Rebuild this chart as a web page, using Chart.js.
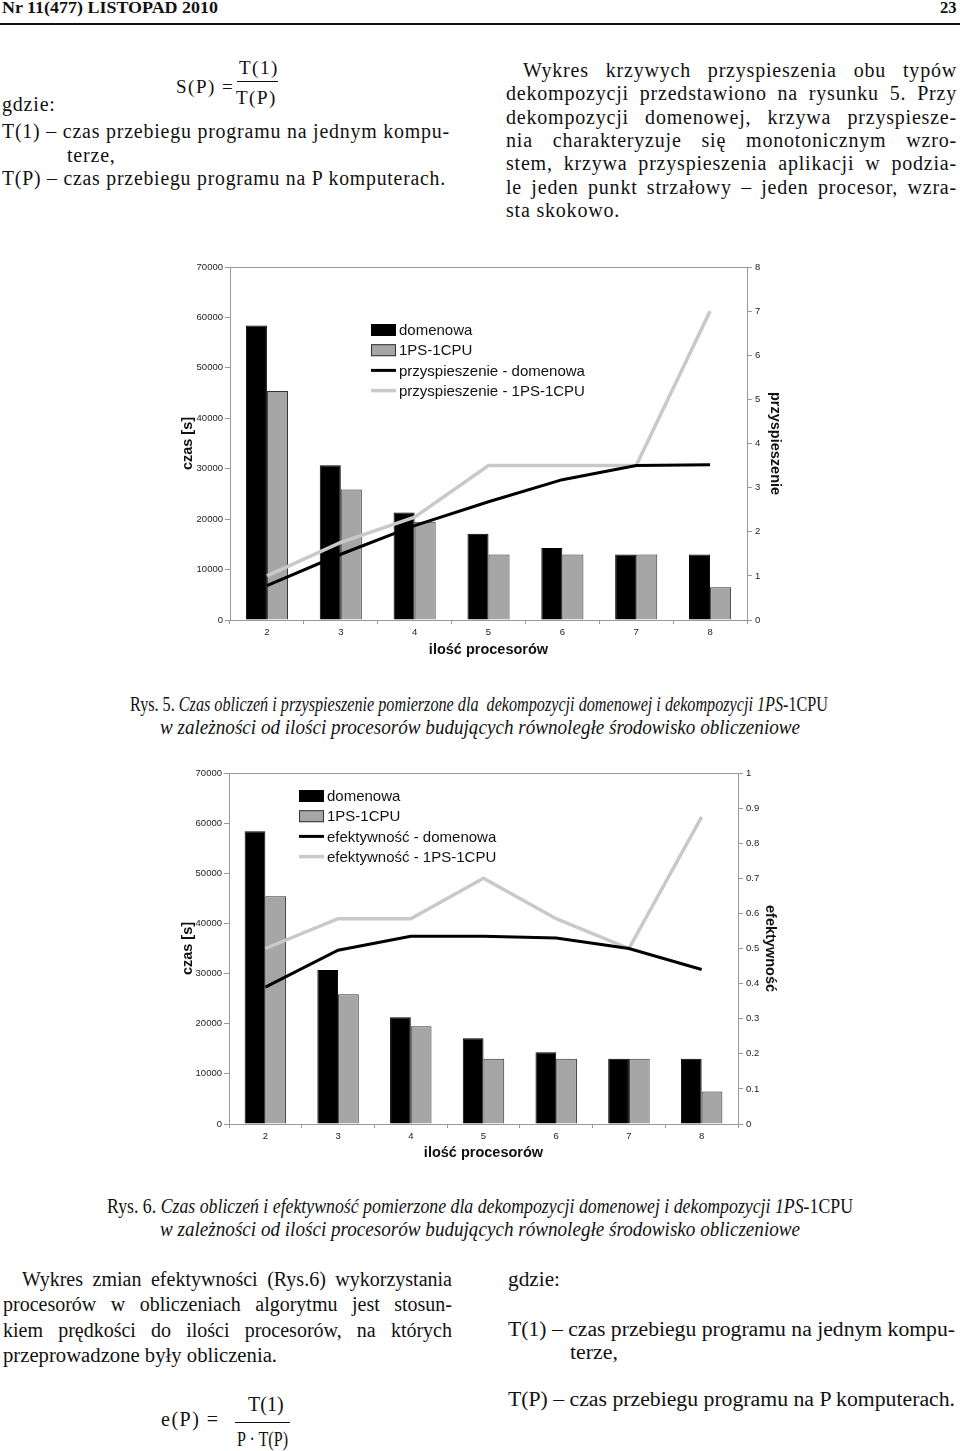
<!DOCTYPE html>
<html lang="pl">

<head>
    <meta charset="UTF-8" />
    <script src="https://cdn.jsdelivr.net/npm/chart.js@4.4.0/dist/chart.umd.min.js"></script>
    <style>
        body { margin: 0; background: #fff; }
        #strona { position: relative; width: 960px; height: 1451px; overflow: hidden; font-family: 'Liberation Serif', 'Times New Roman', serif; color: #111; }
        .ln { position: absolute; white-space: nowrap; line-height: 1; transform-origin: 0 50%; }
        .t19 { font-size: 20px; letter-spacing: 0.8px; }
        .t20 { font-size: 20px; }
        .wz { font-size: 19px; letter-spacing: 1.5px; }
        .nag { font-size: 16.5px; font-weight: bold; }
        .kreska { position: absolute; background: #111; }
        canvas { position: absolute; }
        i { font-style: italic; }
    </style>
</head>

<body>
<div id="strona">
    <div class="ln nag" style="left:2px;top:0px" data-w="216">Nr 11(477) LISTOPAD 2010</div>
    <div class="ln nag" style="left:940px;top:0px">23</div>
    <div class="kreska" style="left:0;top:23px;width:960px;height:2px"></div>

    <!-- wzor S(P) -->
    <div class="ln wz" style="left:176px;top:77px">S(P) =</div>
    <div class="ln wz" style="left:239px;top:58px">T(1)</div>
    <div class="kreska" style="left:237px;top:81px;width:41px;height:1px"></div>
    <div class="ln wz" style="left:236px;top:88px">T(P)</div>

    <div class="ln t19" style="left:2px;top:94px">gdzie:</div>
    <div class="ln t19" style="left:2px;top:121px" data-w="448" data-j="1">T(1) – czas przebiegu programu na jednym kompu-</div>
    <div class="ln t19" style="left:67px;top:145px">terze,</div>
    <div class="ln t19" style="left:2px;top:168px" data-w="444" data-j="1">T(P) – czas przebiegu programu na P komputerach.</div>

    <div class="ln t19" style="left:523px;top:60px" data-w="434" data-j="1">Wykres krzywych przyspieszenia obu typów</div>
    <div class="ln t19" style="left:506px;top:83px" data-w="451" data-j="1">dekompozycji przedstawiono na rysunku 5. Przy</div>
    <div class="ln t19" style="left:506px;top:107px" data-w="451" data-j="1">dekompozycji domenowej, krzywa przyspiesze-</div>
    <div class="ln t19" style="left:506px;top:130px" data-w="451" data-j="1">nia charakteryzuje się monotonicznym wzro-</div>
    <div class="ln t19" style="left:506px;top:153px" data-w="451" data-j="1">stem, krzywa przyspieszenia aplikacji w podzia-</div>
    <div class="ln t19" style="left:506px;top:177px" data-w="451" data-j="1">le jeden punkt strzałowy – jeden procesor, wzra-</div>
    <div class="ln t19" style="left:506px;top:200px">sta skokowo.</div>

    <canvas id="wykres5" width="650" height="420" style="left:150px;top:245px"></canvas>

    <div class="ln t20" style="left:130px;top:694px" data-w="698">Rys. 5. <i>Czas obliczeń i przyspieszenie pomierzone dla&nbsp; dekompozycji domenowej i dekompozycji 1PS</i>-1CPU</div>
    <div class="ln t20" style="left:160px;top:717px" data-w="640"><i>w zależności od ilości procesorów budujących równoległe środowisko obliczeniowe</i></div>

    <canvas id="wykres6" width="650" height="420" style="left:150px;top:752px"></canvas>

    <div class="ln t20" style="left:107px;top:1196px" data-w="746">Rys. 6. <i>Czas obliczeń i efektywność pomierzone dla dekompozycji domenowej i dekompozycji 1PS</i>-1CPU</div>
    <div class="ln t20" style="left:160px;top:1219px" data-w="640"><i>w zależności od ilości procesorów budujących równoległe środowisko obliczeniowe</i></div>

    <div class="ln t20" style="left:22px;top:1269px" data-w="430" data-j="1">Wykres zmian efektywności (Rys.6) wykorzystania</div>
    <div class="ln t20" style="left:3px;top:1294px" data-w="449" data-j="1">procesorów w obliczeniach algorytmu jest stosun-</div>
    <div class="ln t20" style="left:3px;top:1320px" data-w="449" data-j="1">kiem prędkości do ilości procesorów, na których</div>
    <div class="ln t20" style="left:3px;top:1345px" data-w="274">przeprowadzone były obliczenia.</div>

    <!-- wzor e(P) -->
    <div class="ln t20" style="left:161px;top:1409px;letter-spacing:1.5px">e(P) =</div>
    <div class="ln t20" style="left:248px;top:1394px">T(1)</div>
    <div class="kreska" style="left:235px;top:1422px;width:55px;height:1px"></div>
    <div class="ln t20" style="left:237px;top:1429px" data-w="51">P · T(P)</div>

    <div class="ln t20" style="left:508px;top:1269px" data-w="52">gdzie:</div>
    <div class="ln t20" style="left:508px;top:1319px" data-w="447">T(1) – czas przebiegu programu na jednym kompu-</div>
    <div class="ln t20" style="left:570px;top:1342px" data-w="48">terze,</div>
    <div class="ln t20" style="left:508px;top:1389px" data-w="447">T(P) – czas przebiegu programu na P komputerach.</div>
</div>

<script>
    const procesory = ['2', '3', '4', '5', '6', '7', '8'];
    const czasDomenowa = [58400, 30700, 21300, 17100, 14300, 13000, 13000];
    const czas1PS = [45400, 25900, 19500, 13000, 13000, 13000, 6500];
    const przyspDomenowa = [0.78, 1.49, 2.14, 2.68, 3.18, 3.5, 3.52];
    const przysp1PS = [1.0, 1.76, 2.33, 3.5, 3.5, 3.5, 7.0];
    const efektDomenowa = [0.39, 0.495, 0.535, 0.535, 0.53, 0.5, 0.44];
    const efekt1PS = [0.5, 0.585, 0.585, 0.70, 0.585, 0.5, 0.875];

    Chart.defaults.font.family = "'Liberation Sans', Arial, sans-serif";
    Chart.defaults.color = '#222';

    const szary = '#999';

    // gorna krawedz obszaru wykresu
    const ramka = {
        id: 'ramka',
        beforeDatasetsDraw(chart) {
            const { ctx, chartArea: a } = chart;
            ctx.save();
            ctx.strokeStyle = szary;
            ctx.lineWidth = 1;
            ctx.beginPath();
            ctx.moveTo(a.left, Math.round(a.top) + 0.5);
            ctx.lineTo(a.right, Math.round(a.top) + 0.5);
            ctx.stroke();
            ctx.restore();
        }
    };

    // legenda w srodku wykresu, jak w Excelu
    const legendaWewnatrz = {
        id: 'legendaWewnatrz',
        afterDraw(chart, args, opts) {
            const ctx = chart.ctx;
            ctx.save();
            ctx.font = opts.czcionka;
            ctx.textBaseline = 'middle';
            chart.data.datasets.forEach((ds, i) => {
                const y = opts.y + i * opts.krok;
                if (ds.type === 'line') {
                    ctx.strokeStyle = ds.borderColor;
                    ctx.lineWidth = ds.borderWidth;
                    ctx.beginPath();
                    ctx.moveTo(opts.x, y);
                    ctx.lineTo(opts.x + 25, y);
                    ctx.stroke();
                } else {
                    ctx.fillStyle = ds.backgroundColor;
                    ctx.fillRect(opts.x, y - 6, 25, 12);
                    ctx.strokeStyle = ds.borderColor;
                    ctx.lineWidth = 1;
                    ctx.strokeRect(opts.x + 0.5, y - 5.5, 24, 11);
                }
                ctx.fillStyle = '#111';
                ctx.fillText(ds.label, opts.x + 28, y + 1);
            });
            ctx.restore();
        }
    };

    function makeChart(id, opis, liniaDom, linia1PS, prawaOs, uklad) {
        const ctx = document.getElementById(id).getContext('2d');
        const tytul = { size: 14.5, weight: 'bold' };
        const etykiety = { size: 9.5 };
        return new Chart(ctx, {
            data: {
                labels: procesory,
                datasets: [
                    { type: 'bar', label: 'domenowa', data: czasDomenowa, yAxisID: 'y', order: 2,
                      backgroundColor: '#000', borderColor: '#000', borderWidth: 1,
                      categoryPercentage: 0.57, barPercentage: 1 },
                    { type: 'bar', label: '1PS-1CPU', data: czas1PS, yAxisID: 'y', order: 2,
                      backgroundColor: '#a6a6a6', borderColor: '#333', borderWidth: 1,
                      categoryPercentage: 0.57, barPercentage: 1 },
                    { type: 'line', label: opis + ' - domenowa', data: liniaDom, yAxisID: 'y2', order: 1,
                      borderColor: '#000', borderWidth: 3, pointRadius: 0, tension: 0 },
                    { type: 'line', label: opis + ' - 1PS-1CPU', data: linia1PS, yAxisID: 'y2', order: 1,
                      borderColor: '#c9c9c9', borderWidth: 3.5, pointRadius: 0, tension: 0 }
                ]
            },
            options: {
                responsive: false,
                animation: false,
                devicePixelRatio: 1,
                layout: { padding: { top: uklad.gora, left: 0, right: 0, bottom: 0 } },
                plugins: {
                    legend: { display: false },
                    tooltip: { enabled: false },
                    legendaWewnatrz: { x: uklad.legX, y: uklad.legY, krok: 20.2,
                                       czcionka: "15px 'Liberation Sans', Arial, sans-serif" }
                },
                scales: {
                    x: {
                        offset: true,
                        grid: { drawOnChartArea: false, tickLength: 4, color: szary, offset: true },
                        border: { color: szary },
                        ticks: { font: etykiety, padding: 3, maxRotation: 0 },
                        title: { display: true, text: 'ilość procesorów', font: tytul, color: '#111',
                                 padding: { top: 0, bottom: uklad.tytulX } },
                        afterFit: s => { s.height = uklad.osX; }
                    },
                    y: {
                        position: 'left', min: 0, max: 70000,
                        grid: { drawOnChartArea: false, tickLength: 5, color: szary },
                        border: { color: szary },
                        ticks: { stepSize: 10000, font: etykiety, padding: 2, callback: v => String(v) },
                        title: { display: true, text: 'czas [s]', font: tytul, color: '#111',
                                 padding: { top: 29, bottom: 0 } },
                        afterFit: s => { s.width = uklad.lewa; }
                    },
                    y2: {
                        position: 'right', min: 0, max: prawaOs.max,
                        grid: { drawOnChartArea: false, tickLength: 5, color: szary },
                        border: { color: szary },
                        ticks: { stepSize: prawaOs.krok, font: etykiety, padding: 3,
                                 callback: v => String(Math.round(v * 10) / 10) },
                        title: { display: true, text: prawaOs.tytul, font: tytul, color: '#111',
                                 padding: { top: uklad.tytulP, bottom: 0 } },
                        afterFit: s => { s.width = uklad.prawa; }
                    }
                }
            },
            plugins: [ramka, legendaWewnatrz]
        });
    }

    makeChart('wykres5', 'przyspieszenie', przyspDomenowa, przysp1PS,
        { max: 8, krok: 1, tytul: 'przyspieszenie' },
        { gora: 22, lewa: 80, prawa: 53, osX: 45, tytulX: 6, tytulP: 16, legX: 221, legY: 85 });

    makeChart('wykres6', 'efektywność', efektDomenowa, efekt1PS,
        { max: 1, krok: 0.1, tytul: 'efektywność' },
        { gora: 21, lewa: 79, prawa: 62, osX: 48, tytulX: 10, tytulP: 21, legX: 149, legY: 44 });

    // dopasowanie szerokosci linii tekstu do skanu
    function dopasuj() {
        document.querySelectorAll('.ln').forEach(el => {
            const w = parseFloat(el.dataset.w);
            if (!w) return;
            el.style.transform = '';
            el.style.wordSpacing = '';
            const nat = el.getBoundingClientRect().width;
            if (el.dataset.j && nat < w) {
                const spacje = (el.textContent.match(/ /g) || []).length;
                if (spacje) el.style.wordSpacing = ((w - nat) / spacje) + 'px';
            } else {
                el.style.transform = 'scaleX(' + (w / nat) + ')';
            }
        });
    }
    dopasuj();
    if (document.fonts) document.fonts.ready.then(dopasuj);
</script>
</body>

</html>
